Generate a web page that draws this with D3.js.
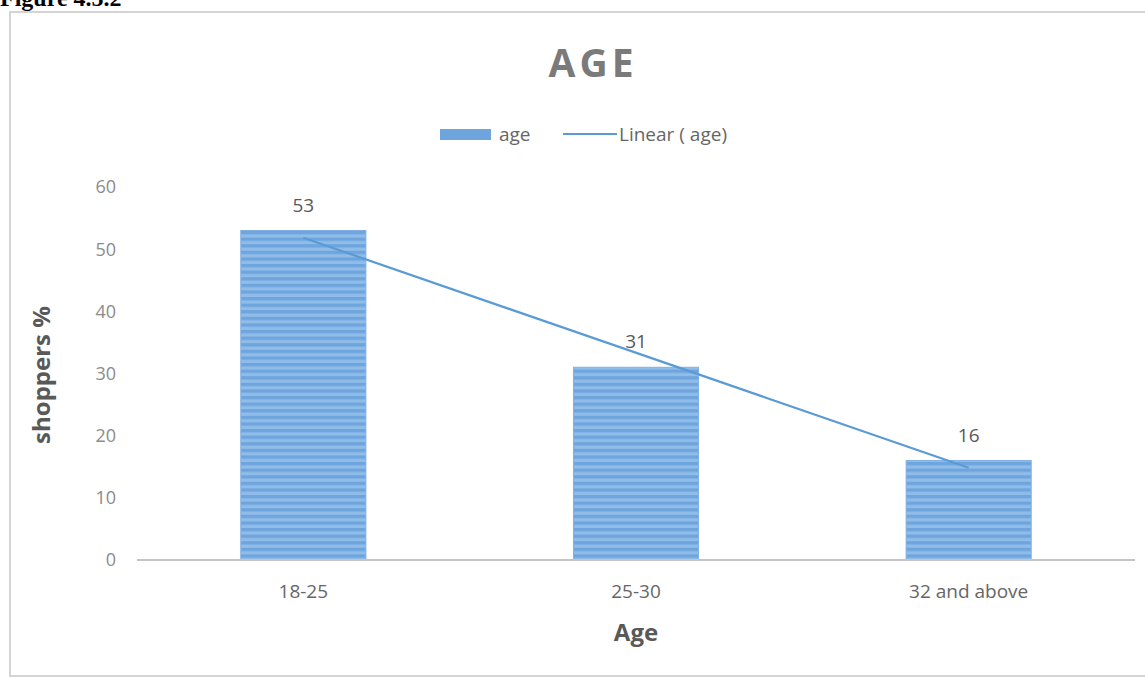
<!DOCTYPE html>
<html><head><meta charset="utf-8">
<script src="https://cdn.jsdelivr.net/npm/d3@7"></script>
<style>body{margin:0;background:#fff;}svg{display:block;}</style>
</head><body>
<svg id="c" width="1145" height="679"></svg>
<script>
const categories = ["18-25", "25-30", "32 and above"];
const values = [53, 31, 16];
const yTicks = [0, 10, 20, 30, 40, 50, 60];
const seriesName = "age";
const trendName = "Linear ( age)";
const chartTitle = "AGE";
const xTitle = "Age";
const yTitle = "shoppers %";
const figureLabel = "Figure 4.5.2";

const svg = d3.select("#c");
const font = "'Open Sans', 'Noto Sans', sans-serif";

// figure label (cropped at top, as in the source)
svg.append("text").attr("x", 0).attr("y", 6)
  .attr("font-family", "'Liberation Serif', serif").attr("font-weight", "bold")
  .attr("font-size", 24).attr("fill", "#000").text(figureLabel);

// frame
svg.append("rect").attr("x", 10).attr("y", 12).attr("width", 1145).attr("height", 664)
  .attr("fill", "#fff").attr("stroke", "#d4d4d4").attr("stroke-width", 2);

const defs = svg.append("defs");
const pat = defs.append("pattern").attr("id", "stripes").attr("patternUnits", "userSpaceOnUse")
  .attr("width", 10).attr("height", 6.6).attr("y", 0);
pat.append("rect").attr("width", 10).attr("height", 6.6).attr("fill", "#6ea5dd");
pat.append("rect").attr("y", 3.3).attr("width", 10).attr("height", 3.3).attr("fill", "#8fbce9");

const x0 = 137, x1 = 1135, yTop = 187, yBot = 560;
const x = d3.scaleBand().domain(categories).range([x0, x1]).padding(0);
const y = d3.scaleLinear().domain([0, 60]).range([yBot, yTop]);
const barW = x.bandwidth() * 0.376;

// y tick labels
svg.append("g").selectAll("text").data(yTicks).join("text")
  .attr("x", 116).attr("y", d => y(d)).attr("dy", "0.36em")
  .attr("text-anchor", "end").attr("font-family", font).attr("font-size", 18)
  .attr("fill", "#8c8c8c").text(d => d);

// bars
svg.append("g").selectAll("rect").data(values).join("rect")
  .attr("x", (d, i) => x(categories[i]) + x.bandwidth() / 2 - barW / 2)
  .attr("y", d => y(d)).attr("width", barW).attr("height", d => y(0) - y(d))
  .attr("fill", "url(#stripes)").attr("stroke", "#7fb0e3").attr("stroke-width", 1);

// axis line
svg.append("line").attr("x1", x0).attr("x2", x1).attr("y1", y(0)).attr("y2", y(0))
  .attr("stroke", "#c4c4c4").attr("stroke-width", 2);

// x labels
svg.append("g").selectAll("text").data(categories).join("text")
  .attr("x", d => x(d) + x.bandwidth() / 2).attr("y", 598)
  .attr("text-anchor", "middle").attr("font-family", font).attr("font-size", 19)
  .attr("fill", "#666").text(d => d);

// data labels
svg.append("g").selectAll("text").data(values).join("text")
  .attr("x", (d, i) => x(categories[i]) + x.bandwidth() / 2).attr("y", d => y(d) - 19)
  .attr("text-anchor", "middle").attr("font-family", font).attr("font-size", 19)
  .attr("fill", "#595959").text(d => d);

// linear trend (least squares)
const n = values.length;
const xs = values.map((d, i) => i + 1);
const mx = d3.mean(xs), my = d3.mean(values);
const slope = d3.sum(xs.map((xv, i) => (xv - mx) * (values[i] - my))) / d3.sum(xs.map(xv => (xv - mx) ** 2));
const intercept = my - slope * mx;
const trend = xs.map((xv, i) => [x(categories[i]) + x.bandwidth() / 2, y(intercept + slope * xv)]);
svg.append("path").attr("d", d3.line()([trend[0], trend[n - 1]]))
  .attr("stroke", "#5b9bd5").attr("stroke-width", 2.2).attr("fill", "none");

// title
svg.append("text").attr("x", 593).attr("y", 77).attr("text-anchor", "middle")
  .attr("font-family", font).attr("font-weight", "bold").attr("font-size", 39)
  .attr("letter-spacing", 4).attr("fill", "#7a7a7a").text(chartTitle);

// legend
svg.append("rect").attr("x", 440).attr("y", 129).attr("width", 51).attr("height", 11)
  .attr("fill", "#6ea5dd");
svg.append("text").attr("x", 499).attr("y", 134).attr("dy", "0.36em")
  .attr("font-family", font).attr("font-size", 19).attr("fill", "#666").text(seriesName);
svg.append("line").attr("x1", 563).attr("x2", 617).attr("y1", 134).attr("y2", 134)
  .attr("stroke", "#5b9bd5").attr("stroke-width", 2.2);
svg.append("text").attr("x", 619).attr("y", 134).attr("dy", "0.36em")
  .attr("font-family", font).attr("font-size", 19).attr("fill", "#666").text(trendName);

// axis titles
svg.append("text").attr("x", 636).attr("y", 641).attr("text-anchor", "middle")
  .attr("font-family", font).attr("font-weight", "bold").attr("font-size", 24)
  .attr("fill", "#595959").text(xTitle);
svg.append("text").attr("transform", "translate(50,375) rotate(-90)").attr("text-anchor", "middle")
  .attr("font-family", font).attr("font-weight", "bold").attr("font-size", 24)
  .attr("fill", "#595959").text(yTitle);
</script>
</body></html>
